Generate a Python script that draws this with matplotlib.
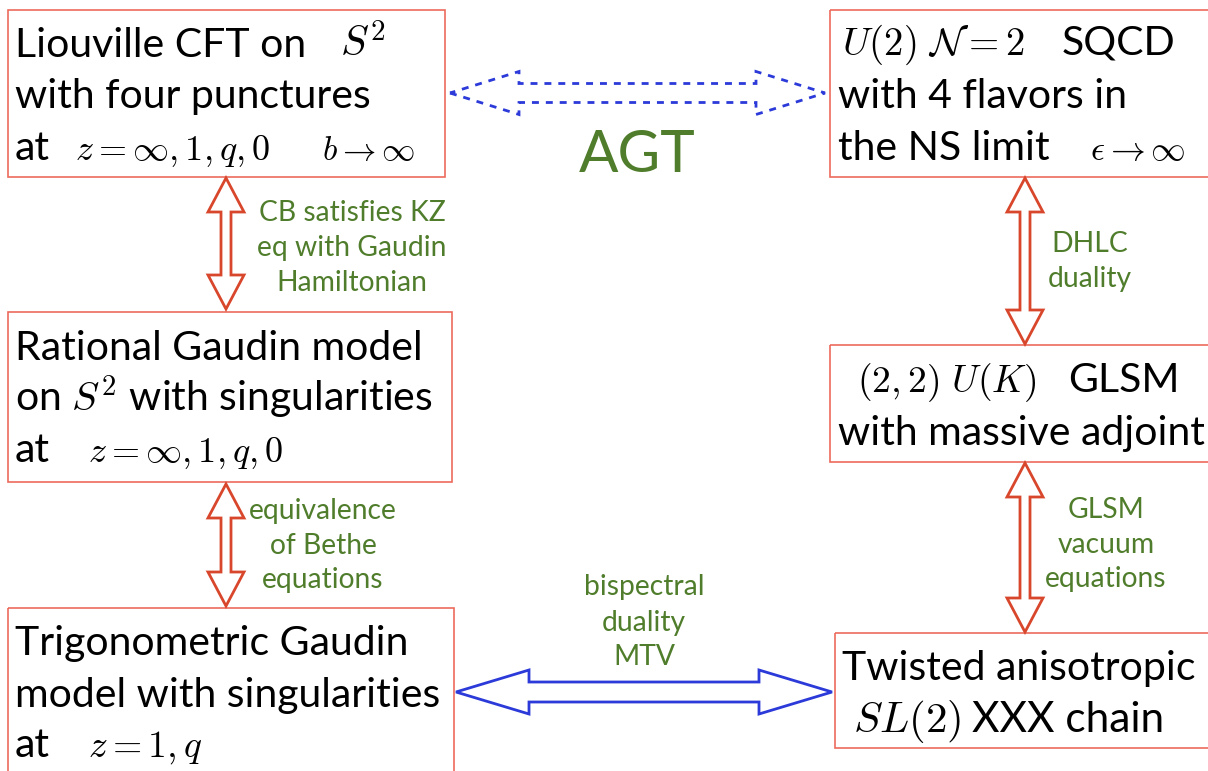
import matplotlib
matplotlib.use("Agg")
import matplotlib.pyplot as plt
import numpy as np
from matplotlib.patches import Polygon, Rectangle

plt.rcParams['font.family'] = ['Lato', 'DejaVu Sans']
plt.rcParams['mathtext.fontset'] = 'cm'

W, H = 1208, 771
BLACK_SIZE = 29.5
GREEN_SIZE = 20.3
GREEN = '#4f7d2b'
BOX_EDGE = '#ec6b5c'
RED = '#d8472c'
BLUE = '#2b3ad8'

# boxes: left, top, right, bottom (pixels)
boxes = [
    (8, 10, 445, 177),
    (830, 10, 1212, 177),
    (8, 312, 452, 482),
    (830, 345, 1212, 462),
    (8, 608, 454, 775),
    (835, 633, 1212, 748),
]

# box texts: (x, baseline y, string, size)
box_texts = [
    (15, 57, "Liouville CFT on", BLACK_SIZE), (340, 57, r"$S^2$", 30),
    (15, 108, "with four punctures", BLACK_SIZE),
    (15, 160, "at", BLACK_SIZE), (75, 160, r"$z=\infty,1,q,0$", 26),
    (322, 160, r"$b\to\infty$", 24),
    (842, 55, r"$U(2)\ \mathcal{N}=2$", 28), (1062, 55, "SQCD", BLACK_SIZE),
    (838, 108, "with 4 flavors in", BLACK_SIZE),
    (838, 160, "the NS limit", BLACK_SIZE), (1090, 160, r"$\epsilon\to\infty$", 25),
    (15, 360, "Rational Gaudin model", BLACK_SIZE),
    (15, 411, r"on $S^2$ with singularities", BLACK_SIZE),
    (15, 462, "at", BLACK_SIZE), (88, 462, r"$z=\infty,1,q,0$", 26),
    (857, 392, r"$(2,2)\ U(K)$", 27), (1068, 392, "GLSM", BLACK_SIZE),
    (838, 445, "with massive adjoint", BLACK_SIZE),
    (15, 655, "Trigonometric Gaudin", BLACK_SIZE),
    (15, 707, "model with singularities", BLACK_SIZE),
    (15, 757, "at", BLACK_SIZE), (88, 757, r"$z=1,q$", 27),
    (842, 680, "Twisted anisotropic", BLACK_SIZE),
    (853, 732, r"$SL(2)$", 31), (972, 732, "XXX chain", 30.5),
]

# double arrows: x0, y0, x1, y1, shaft half width, head half width, head length, colour, style
arrows = [
    (450, 93, 825, 93, 9.5, 21.5, 69, BLUE, 'dotted'),
    (226, 178, 226, 309, 5, 18, 34, RED, 'solid'),
    (226, 484, 226, 606, 5, 18, 34, RED, 'solid'),
    (1025, 178, 1025, 344, 5, 18, 34, RED, 'solid'),
    (1025, 463, 1025, 632, 5, 18, 34, RED, 'solid'),
    (456, 692, 832, 692, 10, 22, 73, BLUE, 'solid'),
]

# green labels: centre x, list of (baseline y, text)
labels = [
    (352, [(221, "CB satisfies KZ"), (256, "eq with Gaudin"), (291, "Hamiltonian")]),
    (323, [(519, "equivalence"), (554, "of Bethe"), (588, "equations")]),
    (1090, [(252, "DHLC"), (287, "duality")]),
    (1106, [(518, "GLSM"), (553, "vacuum"), (587, "equations")]),
    (644, [(595, "bispectral"), (631, "duality"), (665, "MTV")]),
]


def double_arrow(x0, y0, x1, y1, sw, hw, hl):
    # outline in local coords along the arrow, then mapped to the page
    d = np.hypot(x1 - x0, y1 - y0)
    ux, uy = (x1 - x0) / d, (y1 - y0) / d
    px, py = -uy, ux
    local = [(0, 0), (hl, hw), (hl, sw), (d - hl, sw), (d - hl, hw), (d, 0),
             (d - hl, -hw), (d - hl, -sw), (hl, -sw), (hl, -hw)]
    return [(x0 + a * ux + b * px, y0 + a * uy + b * py) for a, b in local]


fig = plt.figure(figsize=(W / 100, H / 100), dpi=100)
ax = fig.add_axes([0, 0, 1, 1])
ax.set_xlim(0, W)
ax.set_ylim(H, 0)
ax.axis('off')

for l, t, r, b in boxes:
    ax.add_patch(Rectangle((l, t), r - l, b - t, fill=False, edgecolor=BOX_EDGE, lw=1.2))

for x, y, s, size in box_texts:
    ax.text(x, y, s, fontsize=size, color='black', ha='left', va='baseline')

for x0, y0, x1, y1, sw, hw, hl, col, style in arrows:
    pts = double_arrow(x0, y0, x1, y1, sw, hw, hl)
    ls = (0, (2.5, 2.5)) if style == 'dotted' else 'solid'
    ax.add_patch(Polygon(pts, closed=True, facecolor='white', edgecolor=col,
                         lw=2.0, linestyle=ls, joinstyle='miter'))

ax.text(637, 172, "AGT", fontsize=42, color=GREEN, ha='center', va='baseline')

for cx, lines in labels:
    for y, s in lines:
        ax.text(cx, y, s, fontsize=GREEN_SIZE, color=GREEN, ha='center', va='baseline')

fig.savefig("out.png", dpi=100)
